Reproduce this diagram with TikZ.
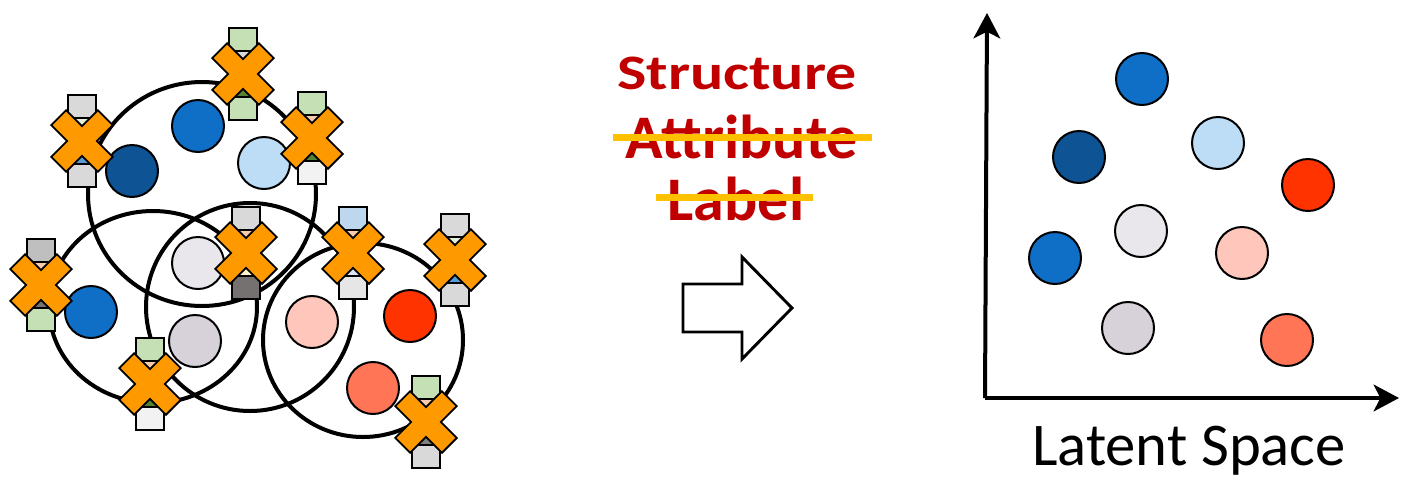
\documentclass[tikz,border=0pt]{standalone}
\usepackage{graphicx}
\usepackage{fontspec}
\setmainfont{Carlito}
\usetikzlibrary{arrows.meta}
\definecolor{nodeblue}{HTML}{0F6FC6}
\definecolor{nodenavy}{HTML}{0E5394}
\definecolor{nodesky}{HTML}{BDDDF6}
\definecolor{nodemist}{HTML}{E9E7EB}
\definecolor{nodelilac}{HTML}{D7D2DA}
\definecolor{nodepink}{HTML}{FFC7BC}
\definecolor{nodered}{HTML}{FF3300}
\definecolor{nodecoral}{HTML}{FF7555}
\definecolor{attgreen}{HTML}{C5E0B4}
\definecolor{attgray}{HTML}{D9D9D9}
\definecolor{attsilver}{HTML}{BFBFBF}
\definecolor{attwhite}{HTML}{F2F2F2}
\definecolor{attsmoke}{HTML}{E7E6E6}
\definecolor{attdark}{HTML}{767171}
\definecolor{attash}{HTML}{7F7F7F}
\definecolor{attpeach}{HTML}{F8CBAD}
\definecolor{attleaf}{HTML}{548235}
\definecolor{attmint}{HTML}{E2F0D9}
\definecolor{attsteel}{HTML}{5B9BD5}
\definecolor{attcream}{HTML}{FFF2CC}
\definecolor{attice}{HTML}{DAE3F3}
\definecolor{attpale}{HTML}{BDD7EE}
\definecolor{maskorange}{HTML}{FF9900}
\definecolor{titlered}{HTML}{C00000}
\definecolor{strikegold}{HTML}{FFC000}
\begin{document}
\begin{tikzpicture}[x=0.75pt, y=-0.75pt,
  group/.style={line width=3pt},
  emb/.style={circle, draw, line width=1.5pt, minimum size=39pt, inner sep=0pt},
  attr/.style={draw, line width=1.3pt},
  mask/.style={draw, line width=1.4pt, fill=maskorange, line join=miter},
  strike/.style={strikegold, line width=5.25pt},
  axis/.style={line width=3pt, -{Stealth[length=19pt, width=20pt, inset=5pt]}},
  title/.style={anchor=base, text=titlered, font=\fontsize{46.5}{50}\selectfont\bfseries},
  pics/masked/.style n args={4}{code={
    \draw[attr, fill=#1] (-14,-46) rectangle (14,-23);
    \draw[attr, fill=#2] (-14,-23) rectangle (14,0);
    \draw[attr, fill=#3] (-14,0) rectangle (14,23);
    \draw[attr, fill=#4] (-14,23) rectangle (14,46);
    \draw[mask, rotate=45] (33,-10.5) -- (33,10.5) -- (10.5,10.5) -- (10.5,33) -- (-10.5,33) -- (-10.5,10.5) -- (-33,10.5) -- (-33,-10.5) -- (-10.5,-10.5) -- (-10.5,-33) -- (10.5,-33) -- (10.5,-10.5) -- cycle;
  }}]
\useasboundingbox (0,0) rectangle (1401,483);
\draw[group] (202,194) ellipse [x radius=114, y radius=112];
\draw[group] (153,307) ellipse [x radius=104, y radius=96];
\draw[group] (250,307) ellipse [x radius=104, y radius=104];
\draw[group] (363,340) ellipse [x radius=100, y radius=97];
\node[emb, fill=nodenavy] (g1) at (132,171) {};
\node[emb, fill=nodeblue] (g2) at (198,126) {};
\node[emb, fill=nodesky] (g3) at (264,163) {};
\node[emb, fill=nodemist] (g4) at (198,263) {};
\node[emb, fill=nodelilac] (g5) at (195,341) {};
\node[emb, fill=nodeblue] (g6) at (91,312) {};
\node[emb, fill=nodepink] (g7) at (312,322) {};
\node[emb, fill=nodered] (g8) at (410,316) {};
\node[emb, fill=nodecoral] (g9) at (373,388) {};
\pic at (243,74) {masked={attgreen}{attgray}{attleaf}{attgreen}};
\pic at (82,141) {masked={attgray}{attmint}{attsteel}{attgray}};
\pic at (312,138) {masked={attgreen}{attpeach}{attleaf}{attwhite}};
\pic at (41,285) {masked={attsilver}{attpeach}{attdark}{attgreen}};
\pic at (246,253) {masked={attgray}{attpeach}{attcream}{attdark}};
\pic at (353,253) {masked={attpale}{attpeach}{attice}{attsmoke}};
\pic at (455,260) {masked={attgray}{attmint}{attsteel}{attgray}};
\pic at (150,384) {masked={attgreen}{attpeach}{attleaf}{attwhite}};
\pic at (426,422) {masked={attgreen}{attpeach}{attash}{attgray}};
\node[title] (structure) at (737,89) {\scalebox{1}[0.8]{Structure}};
\node[title] (attribute) at (742,158) {Attribute};
\node[title] (label) at (736,220) {Label};
\draw[strike] (613,137) -- (872,137);
\draw[strike] (656,197) -- (813,197);
\draw[line width=2.2pt, line join=miter] (683,284) -- (742,284) -- (742,257) -- (792,308) -- (742,359) -- (742,332) -- (683,332) -- cycle;
\coordinate (origin) at (985,398);
\coordinate (ytip) at (987,13);
\coordinate (xtip) at (1399,398);
\draw[axis] (origin) -- (ytip);
\draw[axis] (origin) -- (xtip);
\node[emb, fill=nodeblue] (z1) at (1142,79) {};
\node[emb, fill=nodenavy] (z2) at (1079,157) {};
\node[emb, fill=nodesky] (z3) at (1218,143) {};
\node[emb, fill=nodered] (z4) at (1308,185) {};
\node[emb, fill=nodemist] (z5) at (1141,231) {};
\node[emb, fill=nodeblue] (z6) at (1055,258) {};
\node[emb, fill=nodepink] (z7) at (1242,253) {};
\node[emb, fill=nodelilac] (z8) at (1128,328) {};
\node[emb, fill=nodecoral] (z9) at (1287,340) {};
\node[anchor=base, font=\fontsize{45.5}{50}\selectfont] (latent) at (1189,465) {Latent Space};
\end{tikzpicture}
\end{document}
